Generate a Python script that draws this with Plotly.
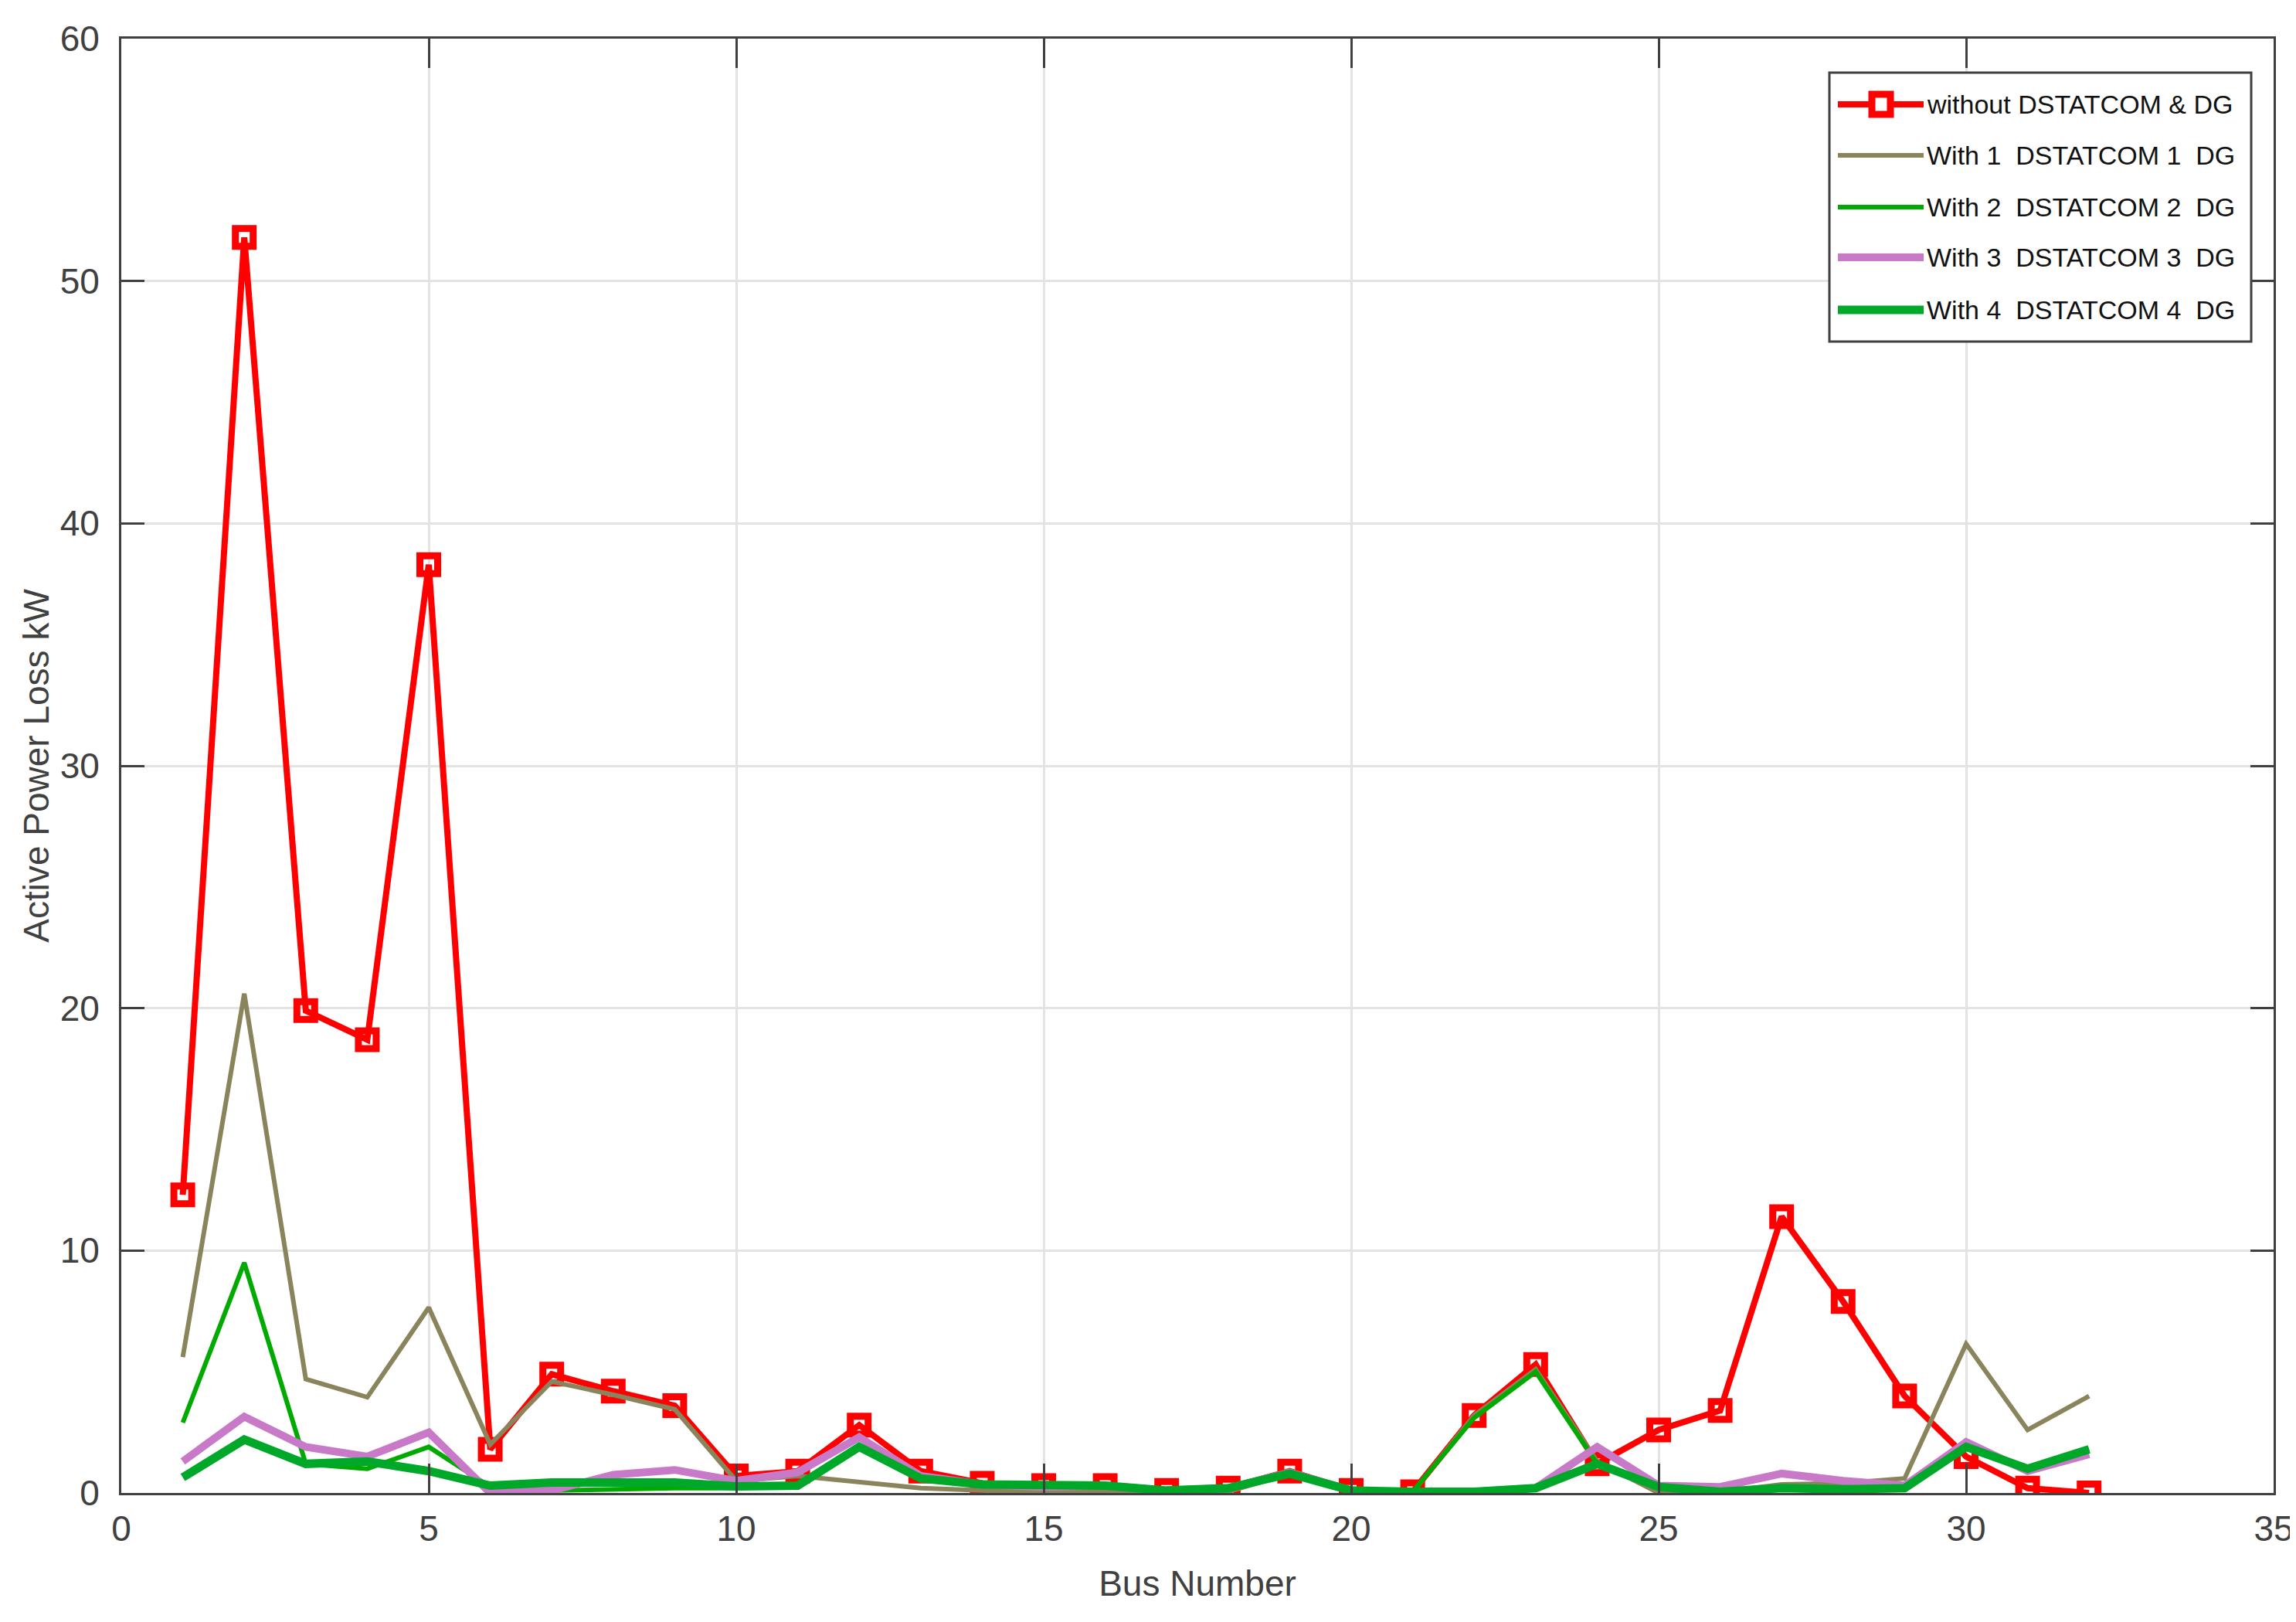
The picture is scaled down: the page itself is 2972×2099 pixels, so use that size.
import plotly.graph_objects as go

# bus numbers 1..32
bus = list(range(1, 33))

loss_base = [12.3, 51.8, 19.9, 18.7, 38.3, 1.8, 4.9, 4.2, 3.6, 0.7, 0.9, 2.8, 0.9, 0.4, 0.3, 0.3,
             0.1, 0.2, 0.9, 0.1, 0.05, 3.2, 5.3, 1.2, 2.6, 3.4, 11.4, 7.9, 4.0, 1.5, 0.2, 0.0]
loss_1 = [5.6, 20.6, 4.7, 3.95, 7.65, 2.0, 4.6, 4.05, 3.45, 0.5, 0.7, 0.45, 0.2, 0.1, 0.05, 0.05,
          0.02, 0.05, 0.8, 0.05, 0.02, 3.2, 5.1, 1.3, 0.0, 0.05, 0.35, 0.4, 0.6, 6.15, 2.6, 4.0]
loss_2 = [2.9, 9.5, 1.2, 1.0, 1.9, 0.25, 0.1, 0.15, 0.2, 0.2, 0.3, 1.9, 0.6, 0.35, 0.3, 0.3,
          0.1, 0.2, 0.8, 0.1, 0.05, 3.1, 5.0, 1.2, 0.2, 0.05, 0.2, 0.2, 0.2, 1.9, 1.0, 1.8]
loss_3 = [1.3, 3.15, 1.9, 1.5, 2.5, 0.0, 0.1, 0.75, 0.95, 0.5, 0.85, 2.3, 0.7, 0.35, 0.25, 0.3,
          0.1, 0.2, 0.85, 0.1, 0.05, 0.05, 0.2, 1.9, 0.3, 0.25, 0.8, 0.5, 0.3, 2.1, 0.9, 1.6]
loss_4 = [0.64, 2.2, 1.2, 1.3, 0.9, 0.3, 0.43, 0.43, 0.43, 0.27, 0.3, 1.9, 0.6, 0.35, 0.3, 0.3,
          0.1, 0.2, 0.8, 0.1, 0.05, 0.05, 0.2, 1.2, 0.25, 0.05, 0.2, 0.15, 0.2, 1.9, 1.0, 1.8]

names = ["without DSTATCOM & DG",
         "With 1  DSTATCOM 1  DG",
         "With 2  DSTATCOM 2  DG",
         "With 3  DSTATCOM 3  DG",
         "With 4  DSTATCOM 4  DG"]
colors = ["#ff0000", "#8a845c", "#00aa00", "#c87ac8", "#00a82a"]
widths = [8, 6, 6, 10, 11]
series = [loss_base, loss_1, loss_2, loss_3, loss_4]

W, H = 2972, 2099
L, R, T, B = 149, 37, 42, 175
FONT = "Liberation Sans, Arial, sans-serif"
AX = "#404040"

fig = go.Figure()
for i, (name, ys) in enumerate(zip(names, series)):
    if i == 0:
        fig.add_trace(go.Scatter(x=bus, y=ys, name=name, mode="lines+markers",
                                 line=dict(color=colors[i], width=widths[i]),
                                 marker=dict(symbol="square-open", size=23, color=colors[i],
                                             line=dict(width=9, color=colors[i]))))
    else:
        fig.add_trace(go.Scatter(x=bus, y=ys, name=name, mode="lines",
                                 line=dict(color=colors[i], width=widths[i])))


def px_x(p):
    return (p - L) / (W - L - R)


def px_y(p):
    return (H - B - p) / (H - T - B)


# hand-made legend box (MATLAB style, long line samples)
shapes = [dict(type="rect", xref="paper", yref="paper", layer="above",
               x0=px_x(2360), x1=px_x(2906), y0=px_y(434), y1=px_y(86),
               line=dict(color=AX, width=3), fillcolor="white")]
annotations = []
rows = [127, 193, 260, 325, 393]
for i, yy in enumerate(rows):
    shapes.append(dict(type="line", xref="paper", yref="paper", layer="above",
                       x0=px_x(2371), x1=px_x(2482), y0=px_y(yy), y1=px_y(yy),
                       line=dict(color=colors[i], width=widths[i])))
    if i == 0:
        shapes.append(dict(type="rect", xref="paper", yref="paper", layer="above",
                           x0=px_x(2415), x1=px_x(2439), y0=px_y(yy + 13), y1=px_y(yy - 13),
                           line=dict(color=colors[0], width=9), fillcolor="white"))
    annotations.append(dict(xref="paper", yref="paper", x=px_x(2484), y=px_y(yy),
                            xanchor="left", yanchor="middle", showarrow=False,
                            text=names[i].replace(" ", "\u00a0"),
                            font=dict(family=FONT, size=34, color="#111111")))

fig.update_layout(
    width=W, height=H,
    margin=dict(l=L, r=R, t=T, b=B),
    paper_bgcolor="white", plot_bgcolor="white",
    showlegend=False,
    font=dict(family=FONT, size=46, color=AX),
    shapes=shapes, annotations=annotations,
)
fig.update_xaxes(range=[0, 35], dtick=5, tick0=0,
                 showline=True, linecolor=AX, linewidth=3, mirror="ticks",
                 ticks="inside", ticklen=38, tickwidth=3, tickcolor=AX,
                 showgrid=True, gridcolor="#e3e3e3", gridwidth=3, zeroline=False,
                 ticklabelstandoff=4,
                 title=dict(text="Bus Number", standoff=30, font=dict(size=46, color=AX)),
                 tickfont=dict(size=46, color=AX))
fig.update_yaxes(range=[0, 60], dtick=10, tick0=0,
                 showline=True, linecolor=AX, linewidth=3, mirror="ticks",
                 ticks="inside", ticklen=30, tickwidth=3, tickcolor=AX,
                 showgrid=True, gridcolor="#e3e3e3", gridwidth=3, zeroline=False,
                 ticklabelstandoff=16,
                 title=dict(text="Active Power Loss kW", standoff=0, font=dict(size=46, color=AX)),
                 tickfont=dict(size=46, color=AX))

fig.write_html("out.html")
